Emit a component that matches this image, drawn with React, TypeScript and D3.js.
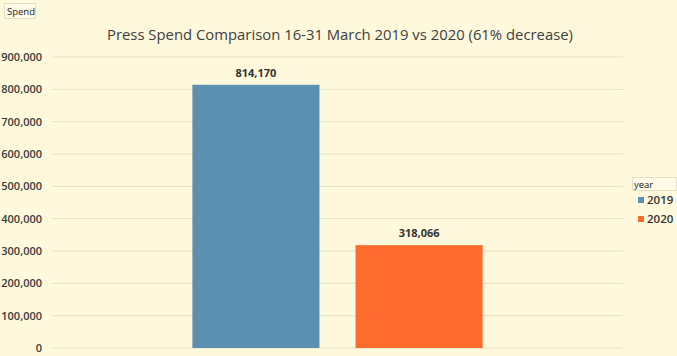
import React from "react";
import * as d3 from "d3";

const groups = ["Total"];
const years = ["2019", "2020"];
const spend = [814170, 318066];
const colors = ["#5B90B1", "#FF6B2C"];
const yTicks = [0, 100000, 200000, 300000, 400000, 500000, 600000, 700000, 800000, 900000];
const title = "Press Spend Comparison 16-31 March 2019 vs 2020 (61% decrease)";

const W = 677, H = 356;
const M = { left: 52, right: 623, top: 57, bottom: 348 };
const font = "'Open Sans', 'Liberation Sans', sans-serif";

export default function App() {
  const y = d3.scaleLinear().domain([0, 900000]).range([M.bottom, M.top]);
  const x0 = d3.scaleBand().domain(groups).range([M.left, M.right]).padding(0.326);
  const x1 = d3.scaleBand().domain(years).range([0, x0.bandwidth()]).paddingInner(0.221);
  const fmt = d3.format(",");
  return (
    <svg width={W} height={H} style={{ position: "absolute", left: 0, top: 0, display: "block" }}>
      <rect x={0} y={0} width={W} height={H} fill="#FEF9DC" />
      <rect x={4.5} y={3.5} width={31} height={15} fill="#FFFBE8" stroke="#E4DEC4" />
      <text x={7} y={15} fontFamily={font} fontSize={9.5} fill="#222">Spend</text>
      <text x={340} y={40} textAnchor="middle" fontFamily={font} fontSize={15} fill="#404040" textLength={466} lengthAdjust="spacingAndGlyphs">{title}</text>
      {yTicks.map((t) => (
        <g key={t}>
          <line x1={M.left} x2={M.right} y1={y(t)} y2={y(t)} stroke="#E7E0C0" strokeWidth={1} />
          <text x={42} y={y(t) + 4} textAnchor="end" fontFamily={font} fontSize={11} fontWeight={600} fill="#3a3a3a">{fmt(t)}</text>
        </g>
      ))}
      {groups.map((g) => (
        <g key={g} transform={`translate(${x0(g)},0)`}>
          {years.map((yr, i) => (
            <g key={yr}>
              <rect x={x1(yr)} y={y(spend[i])} width={x1.bandwidth()} height={y(0) - y(spend[i])} fill={colors[i]} />
              <text x={(x1(yr) as number) + x1.bandwidth() / 2} y={y(spend[i]) - 8} textAnchor="middle" fontFamily={font} fontSize={11} fontWeight={700} fill="#333">{fmt(spend[i])}</text>
            </g>
          ))}
        </g>
      ))}
      <rect x={632.5} y={177.5} width={44} height={13} fill="#FFFBE8" stroke="#E4DEC4" />
      <text x={634} y={188} fontFamily={font} fontSize={9.5} fill="#222">year</text>
      {years.map((yr, i) => (
        <g key={yr}>
          <rect x={638} y={197 + i * 19} width={6} height={6} fill={colors[i]} />
          <text x={647} y={204 + i * 19} fontFamily={font} fontSize={11.5} fontWeight={600} fill="#333">{yr}</text>
        </g>
      ))}
    </svg>
  );
}
